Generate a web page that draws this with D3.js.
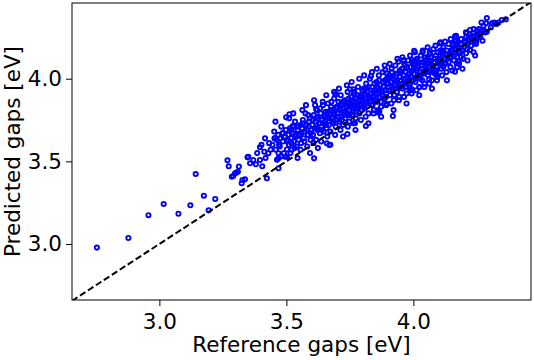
<!DOCTYPE html>
<html><head><meta charset="utf-8">
<script src="https://cdn.jsdelivr.net/npm/d3@7"></script>
<style>body{margin:0;background:#fff}svg{display:block}</style>
</head><body>
<svg id="chart" width="534" height="360"></svg>
<script>
// Reference (x) and predicted (y) gaps in eV
const refGaps = [
  2.754,2.878,2.957,3.017,3.075,3.122,3.143,3.175,3.194,3.220,
  3.268,3.273,3.285,3.291,3.302,3.313,3.298,3.309,3.327,3.337,
  3.324,3.350,3.357,3.370,3.380,3.396,3.396,3.413,3.429,3.416,
  3.453,3.475,3.469,3.469,3.502,3.528,3.423,3.502,3.499,3.512,
  3.525,3.347,3.469,3.495,3.609,3.669,3.659,3.696,3.764,3.833,
  3.813,3.740,3.770,3.862,3.617,3.633,
  4.364,4.348,4.328,4.309,4.286,4.276,4.289,4.256,4.250,4.223,
  4.210,4.236,4.168,4.200,4.223,4.207,4.171,4.105,4.125,4.003,
  4.036,4.062,4.024,3.994,3.889,3.895,3.941,3.961,3.994,4.105,
  4.118,4.085,4.164,4.289,4.164,4.177,4.092,3.919,3.866,3.987,
  3.692,3.751,
  3.385,3.402,3.418,3.432,3.438,3.405,
  3.445,3.452,3.458,3.462,3.468,3.474,3.480,3.486,3.490,3.495,3.498,
  3.503,3.507,3.510,3.514,3.518,3.521,3.526,3.530,3.534,3.538,3.541,3.545,3.548,
  3.552,3.555,3.558,3.562,3.565,3.568,3.572,3.575,3.578,3.582,3.585,3.588,3.592,3.595,3.598,
  3.602,3.605,3.608,3.611,3.614,3.617,3.620,3.623,3.626,3.629,3.632,3.635,3.638,3.641,3.644,3.647,3.649,
  3.652,3.655,3.658,3.661,3.664,3.667,3.670,3.673,3.676,3.679,3.682,3.685,3.688,3.691,3.694,3.697,3.699,
  3.702,3.705,3.708,3.711,3.714,3.717,3.720,3.723,3.726,3.729,3.732,3.735,3.738,3.741,3.744,3.747,3.749,
  3.752,3.755,3.758,3.761,3.764,3.767,3.770,3.773,3.776,3.779,3.782,3.785,3.788,3.791,3.794,3.797,3.799,
  3.802,3.805,3.808,3.811,3.814,3.817,3.820,3.823,3.826,3.829,3.832,3.835,3.838,3.841,3.844,3.847,3.849,
  3.852,3.855,3.858,3.861,3.864,3.867,3.870,3.873,3.876,3.879,3.882,3.885,3.888,3.891,3.894,3.897,3.899,
  3.902,3.905,3.908,3.911,3.914,3.917,3.920,3.923,3.926,3.929,3.932,3.935,3.938,3.941,3.944,3.947,3.949,
  3.952,3.955,3.958,3.961,3.964,3.967,3.970,3.973,3.976,3.979,3.982,3.985,3.988,3.991,3.994,3.997,3.999,
  4.002,4.005,4.008,4.011,4.014,4.017,4.020,4.023,4.026,4.029,4.032,4.035,4.038,4.041,4.044,4.047,
  4.052,4.055,4.058,4.061,4.064,4.067,4.070,4.073,4.076,4.079,4.082,4.085,4.088,4.091,4.094,4.097,
  4.102,4.106,4.110,4.114,4.118,4.122,4.126,4.130,4.134,4.138,4.142,4.146,4.149,
  4.152,4.156,4.160,4.164,4.168,4.172,4.176,4.180,4.184,4.188,4.192,4.196,
  4.202,4.207,4.212,4.217,4.222,4.227,4.232,4.237,4.242,4.247,
  4.253,4.258,4.264,4.270,4.276,4.282,
  4.305,4.318,4.335,
  3.463,3.457,3.484,3.478,3.511,3.516,3.533,3.527,3.544,3.563,
  3.556,3.571,3.577,3.593,3.586,3.613,3.607,3.609,3.624,3.619,
  3.643,3.637,3.646,3.661,3.657,3.664,3.673,3.677,3.692,3.688,
  3.694,3.713,3.707,3.716,3.723,3.727,3.742,3.738,3.745,3.763,
  3.757,3.766,3.772,3.776,3.793,3.787,3.795,3.812,3.806,3.815,
  3.823,3.827,3.843,3.837,3.846,3.862,3.856,3.865,3.873,3.877,
  3.893,3.887,3.896,3.913,3.907,3.915,3.922,3.927,3.943,3.937,
  3.946,3.963,3.957,3.966,3.973,3.977,3.993,3.987,3.996,4.012,
  4.006,4.015,4.023,4.027,4.043,4.037,4.046,4.062,4.056,4.065,
  4.073,4.077,4.093,4.087,4.096,4.113,4.107,4.116,4.132,4.127,
  4.153,4.147,4.156,4.172,4.167,4.176,4.193,4.187,4.213,4.207,
  4.216,4.243,4.237,4.246,4.272,4.268,
  3.535,3.547,3.559,3.566,3.581,3.589,3.596,3.604,3.616,3.621,
  3.633,3.639,3.651,3.656,3.668,3.674,3.681,3.687,3.698,3.703,
  3.709,3.718,3.724,3.733,3.739,3.748,3.754,3.759,3.768,3.774,
  3.781,3.789,3.796,3.803,3.809,3.818,3.824,3.831,3.839,3.845,
  3.853,3.859,3.866,3.872,3.881,3.886,3.892,3.901,3.906,3.912,
  3.919,3.925,3.931,3.936,3.942,3.951,3.956,3.962,3.969,3.975,
  3.981,3.986,3.992,4.001,4.007,4.013,4.019,4.025,4.031,4.039,
  4.045,4.051,4.057,4.063,4.069,4.078,4.084,4.091,4.099,4.104,
  4.111,4.119,4.124,4.131,4.139,4.145,4.154,4.161,4.169,4.178,
  4.186,4.195,4.204,4.214,4.226,4.239,4.251,4.262,
  3.455,3.471,3.487,3.506,3.519,3.520
];
const predGaps = [
  2.978,3.036,3.174,3.242,3.183,3.234,3.423,3.292,3.204,3.272,
  3.506,3.470,3.407,3.411,3.431,3.468,3.428,3.437,3.387,3.391,
  3.367,3.528,3.488,3.508,3.482,3.508,3.585,3.558,3.549,3.639,
  3.639,3.639,3.549,3.458,3.528,3.710,3.397,3.572,3.766,3.785,
  3.714,3.524,3.518,3.528,3.518,3.599,3.609,3.906,3.936,4.016,
  3.714,3.665,3.730,3.794,3.815,3.821,
  4.359,4.355,4.331,4.335,4.335,4.295,4.284,4.254,4.244,4.295,
  4.275,4.275,4.260,4.194,4.174,4.154,4.093,4.214,4.224,4.169,
  4.161,3.996,3.948,3.936,4.053,4.033,4.103,4.113,4.113,4.103,
  4.073,4.053,4.042,4.367,4.256,4.104,4.024,3.774,3.800,3.932,
  3.907,3.936,
  3.55,3.60,3.52,3.61,3.57,3.47,
  3.60,3.68,3.57,3.63,3.66,3.59,3.71,3.62,3.55,3.65,3.69,
  3.62,3.66,3.60,3.70,3.64,3.57,3.67,3.62,3.74,3.65,3.59,3.69,3.63,
  3.66,3.72,3.61,3.70,3.75,3.64,3.68,3.79,3.72,3.59,3.66,3.71,3.76,3.63,3.69,
  3.72,3.66,3.78,3.70,3.74,3.63,3.81,3.69,3.76,3.73,3.67,3.79,3.71,3.75,3.84,3.68,3.77,
  3.74,3.80,3.70,3.77,3.85,3.72,3.79,3.68,3.83,3.76,3.81,3.73,3.88,3.78,3.71,3.82,3.75,
  3.79,3.86,3.74,3.82,3.90,3.77,3.84,3.72,3.80,3.87,3.76,3.83,3.79,3.92,3.85,3.74,3.81,
  3.83,3.89,3.78,3.86,3.80,3.92,3.84,3.76,3.88,3.82,3.95,3.87,3.79,3.90,3.85,3.81,3.93,
  3.87,3.94,3.82,3.90,3.97,3.85,3.92,3.79,3.88,4.00,3.91,3.84,3.95,3.89,3.81,3.93,3.87,
  3.91,3.98,3.86,3.94,4.02,3.89,3.96,3.83,3.92,4.04,3.95,3.88,3.99,3.93,3.85,3.97,4.01,
  3.95,4.02,3.90,3.98,4.06,3.93,4.00,3.87,3.96,4.08,3.99,3.92,4.03,3.97,3.89,4.01,3.95,
  3.99,4.06,3.94,4.02,4.09,3.97,4.04,3.91,4.00,4.11,4.03,3.96,4.07,4.01,3.93,4.05,3.99,
  4.03,4.09,3.98,4.06,4.12,4.01,4.07,3.95,4.04,4.14,4.06,3.99,4.10,4.04,3.97,4.08,
  4.07,4.13,4.02,4.10,4.16,4.05,4.11,3.99,4.08,4.18,4.10,4.03,4.14,4.07,4.01,4.12,
  4.11,4.17,4.06,4.14,4.19,4.09,4.15,4.04,4.12,4.21,4.13,4.07,4.17,
  4.15,4.21,4.11,4.18,4.23,4.13,4.19,4.09,4.16,4.24,4.17,4.12,
  4.22,4.25,4.18,4.23,4.27,4.20,4.24,4.16,4.26,4.22,
  4.27,4.30,4.25,4.29,4.32,4.28,
  4.31,4.34,4.34,
  3.51,3.74,3.67,3.53,3.76,3.55,3.58,3.79,3.52,3.81,
  3.57,3.62,3.84,3.55,3.78,3.84,3.61,3.87,3.58,3.70,
  3.86,3.62,3.73,3.65,3.90,3.80,3.60,3.86,3.66,3.92,
  3.75,3.69,3.94,3.85,3.65,3.78,3.71,3.96,3.88,3.73,
  3.98,3.91,3.69,3.83,3.75,4.00,3.89,3.77,4.02,3.94,
  3.73,3.86,3.79,4.04,3.97,3.81,4.06,3.99,3.77,3.90,
  3.84,4.08,4.00,3.85,4.09,4.04,3.81,3.94,3.87,4.12,
  4.05,3.89,4.13,4.08,3.85,3.98,3.91,4.14,4.10,3.93,
  4.16,4.11,3.90,4.00,3.95,4.17,4.13,3.97,4.19,4.15,
  3.94,4.04,3.99,4.20,4.16,4.02,4.22,4.17,3.99,4.09,
  4.05,4.24,4.20,4.07,4.25,4.22,4.06,4.13,4.11,4.28,
  4.24,4.14,4.30,4.21,4.23,4.34,
  3.66,3.71,3.67,3.73,3.69,3.74,3.67,3.75,3.70,3.77,
  3.73,3.69,3.78,3.72,3.76,3.81,3.74,3.79,3.83,3.77,
  3.81,3.75,3.86,3.80,3.84,3.78,3.87,3.82,3.86,3.80,
  3.90,3.84,3.88,3.83,3.91,3.86,3.95,3.89,3.84,3.92,
  3.88,3.95,3.91,3.86,3.98,3.93,3.89,3.97,3.93,4.01,
  3.95,3.90,4.03,3.98,3.94,4.04,3.97,4.00,3.95,4.07,
  4.01,3.97,4.04,4.08,4.00,4.05,4.10,4.02,4.08,4.03,
  4.11,4.05,4.09,4.04,4.13,4.07,4.12,4.05,4.10,4.14,
  4.09,4.16,4.12,4.17,4.10,4.15,4.18,4.14,4.20,4.16,
  4.21,4.17,4.23,4.21,4.25,4.23,4.29,4.27,
  3.64,3.60,3.67,3.63,3.69,3.61
];
const xTicks = [3.0, 3.5, 4.0];
const yTicks = [3.0, 3.5, 4.0];
const xLabel = "Reference gaps [eV]";
const yLabel = "Predicted gaps [eV]";

const W = 534, H = 360;
const m = {left: 72, top: 3, right: 3, bottom: 60};
const iw = W - m.left - m.right, ih = H - m.top - m.bottom;
const font = "DejaVu Sans, sans-serif";
const fs = 21.5;

const x = d3.scaleLinear().domain([2.656, 4.463]).range([0, iw]);
const y = d3.scaleLinear().domain([2.661, 4.458]).range([ih, 0]);

const svg = d3.select("#chart");
const g = svg.append("g").attr("transform", `translate(${m.left},${m.top})`);

g.append("clipPath").attr("id", "clip").append("rect").attr("width", iw).attr("height", ih);

const pts = refGaps.map((v, i) => [v, predGaps[i]]);
g.append("g").attr("clip-path", "url(#clip)")
  .selectAll("circle").data(pts).join("circle")
  .attr("cx", d => x(d[0])).attr("cy", d => y(d[1])).attr("r", 2.1)
  .attr("fill", "none").attr("stroke", "#0000ff").attr("stroke-width", 1.9);

const lo = Math.min(x.domain()[0], y.domain()[0]), hi = Math.max(x.domain()[1], y.domain()[1]);
g.append("line").attr("clip-path", "url(#clip)")
  .attr("x1", x(lo)).attr("y1", y(lo)).attr("x2", x(hi)).attr("y2", y(hi))
  .attr("stroke", "#000").attr("stroke-width", 2).attr("stroke-dasharray", "6.5,3");

const xa = g.append("g").attr("transform", `translate(0,${ih})`)
  .call(d3.axisBottom(x).tickValues(xTicks).tickFormat(d3.format(".1f")).tickSize(6).tickPadding(8));
const ya = g.append("g")
  .call(d3.axisLeft(y).tickValues(yTicks).tickFormat(d3.format(".1f")).tickSize(6).tickPadding(4));
[xa, ya].forEach(a => {
  a.select(".domain").remove();
  a.selectAll(".tick line").attr("stroke", "#000").attr("stroke-width", 1);
  a.selectAll("text").attr("font-family", font).attr("font-size", fs).attr("fill", "#000");
});

g.append("rect").attr("width", iw).attr("height", ih)
  .attr("fill", "none").attr("stroke", "#000").attr("stroke-width", 1);

svg.append("text").attr("x", m.left + iw / 2).attr("y", 352)
  .attr("text-anchor", "middle").attr("font-family", font).attr("font-size", fs).text(xLabel);
svg.append("text").attr("transform", `translate(19.5,${m.top + ih / 2}) rotate(-90)`)
  .attr("text-anchor", "middle").attr("font-family", font).attr("font-size", fs).text(yLabel);
</script>
</body></html>
